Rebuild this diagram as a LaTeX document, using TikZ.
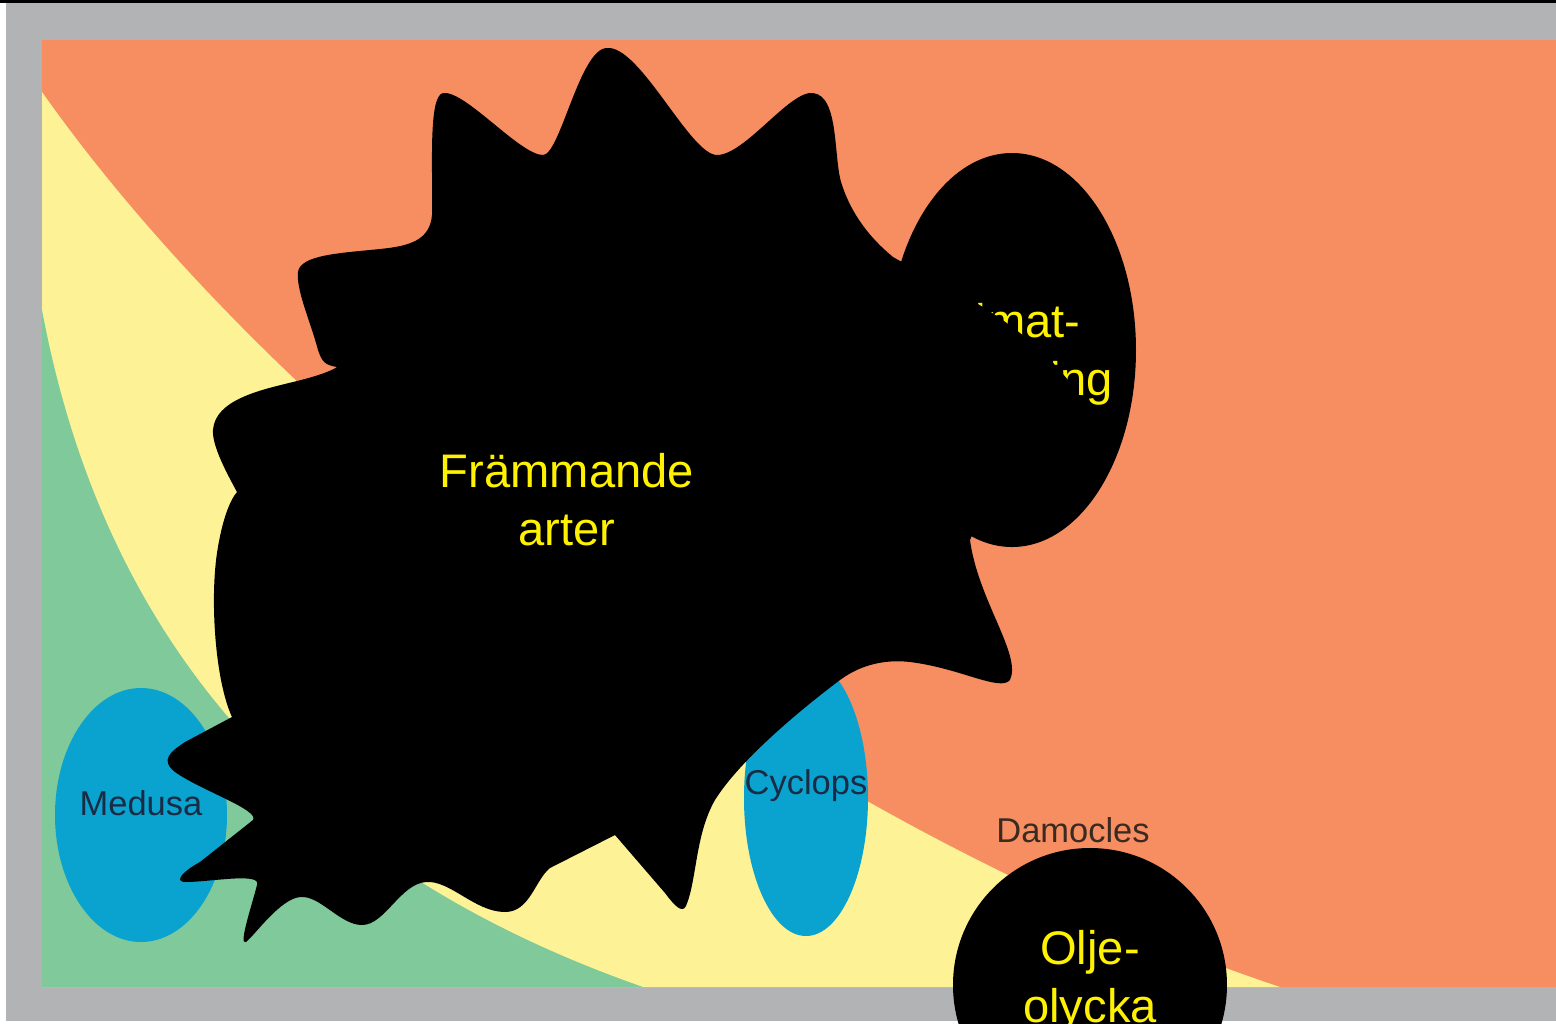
\documentclass[tikz,border=0pt]{standalone}
\usepackage{fontspec}
\setmainfont{Liberation Sans}
\usetikzlibrary{positioning}

\definecolor{frame}{HTML}{B2B3B5}
\definecolor{coral}{HTML}{F68E61}
\definecolor{sand}{HTML}{FDF396}
\definecolor{mint}{HTML}{80C99A}
\definecolor{sea}{HTML}{0AA3CF}
\definecolor{ink}{HTML}{1A2B45}
\definecolor{bark}{HTML}{3B2A22}

\begin{document}
\begin{tikzpicture}[
  x=0.01cm, y=-0.01cm,
  threat/.style={text=yellow, align=center, font=\fontsize{13.4}{16.5}\selectfont},
  scen/.style={font=\fontsize{9.8}{12}\selectfont}
]
\clip (0,0) rectangle (1556,1023);
\fill[white] (0,0) rectangle (1556,1023);
\fill[frame] (6,3) rectangle (1556,1021);
\fill[black] (0,0) rectangle (1556,3);

% zones
\fill[coral] (42,40) rectangle (1556,987);
\fill[sand] (42,92) .. controls (280,430) and (780,820) .. (1280,987) -- (42,987) -- cycle;
\fill[mint] (42,310) .. controls (100,620) and (280,860) .. (643,987) -- (42,987) -- cycle;

% scenarios
\fill[sea] (141,815) ellipse [x radius=86, y radius=127];
\fill[sea] (806,798) ellipse [x radius=62, y radius=138];
\fill[sea] (1062,940) ellipse [x radius=50, y radius=88];
\node[scen, text=ink] (medusa) at (141,803) {Medusa};
\node[scen, text=ink] (cyclops) at (806,786) {Cyclops};
\node[scen, text=bark] (damocles) at (1073,830) {Damocles};

% threats
\fill[black] (1012,350) ellipse [x radius=124, y radius=197];
\node[threat] (klimat) at (1007,354) {Klimat-\\förändring};

\fill[black] (607,48)
  .. controls (640,45) and (690,155) .. (717,155)
  .. controls (745,155) and (790,90) .. (813,93)
  .. controls (840,96) and (833,160) .. (842,185)
  .. controls (852,215) and (870,238) .. (893,257)
  .. controls (960,295) and (1050,330) .. (1100,430)
  .. controls (1050,470) and (990,490) .. (970,540)
  .. controls (978,600) and (1022,655) .. (1010,680)
  .. controls (1000,692) and (960,668) .. (910,662)
  .. controls (885,659) and (860,665) .. (840,680)
  .. controls (800,710) and (740,760) .. (715,800)
  .. controls (695,835) and (697,880) .. (686,906)
  .. controls (682,914) and (674,905) .. (665,893)
  -- (615,835)
  -- (550,868)
  .. controls (535,880) and (530,912) .. (505,912)
  .. controls (475,912) and (450,880) .. (426,882)
  .. controls (400,884) and (385,925) .. (362,925)
  .. controls (340,925) and (320,895) .. (300,897)
  .. controls (280,899) and (255,935) .. (246,942)
  .. controls (238,946) and (252,905) .. (257,885)
  .. controls (262,872) and (210,882) .. (186,882)
  .. controls (172,882) and (185,870) .. (200,862)
  -- (253,820)
  .. controls (260,810) and (200,790) .. (175,772)
  .. controls (160,760) and (170,752) .. (185,742)
  -- (232,717)
  .. controls (215,680) and (210,600) .. (217,553)
  .. controls (222,520) and (230,500) .. (237,492)
  .. controls (225,470) and (212,445) .. (213,430)
  .. controls (215,400) and (260,390) .. (293,382)
  .. controls (310,378) and (330,372) .. (337,367)
  .. controls (325,365) and (322,362) .. (318,350)
  .. controls (310,320) and (296,290) .. (298,272)
  .. controls (300,255) and (340,253) .. (380,249)
  .. controls (410,246) and (430,240) .. (432,215)
  .. controls (433,170) and (428,96) .. (443,93)
  .. controls (465,90) and (520,155) .. (543,155)
  .. controls (560,155) and (580,48) .. (607,48)
  -- cycle;
\node[threat] (arter) at (567,500) {Främmande\\arter};

\fill[black] (1090,985) circle [radius=137];
\node[threat] (olja) at (1090,981) {Olje-\\olycka};
\end{tikzpicture}
\end{document}
